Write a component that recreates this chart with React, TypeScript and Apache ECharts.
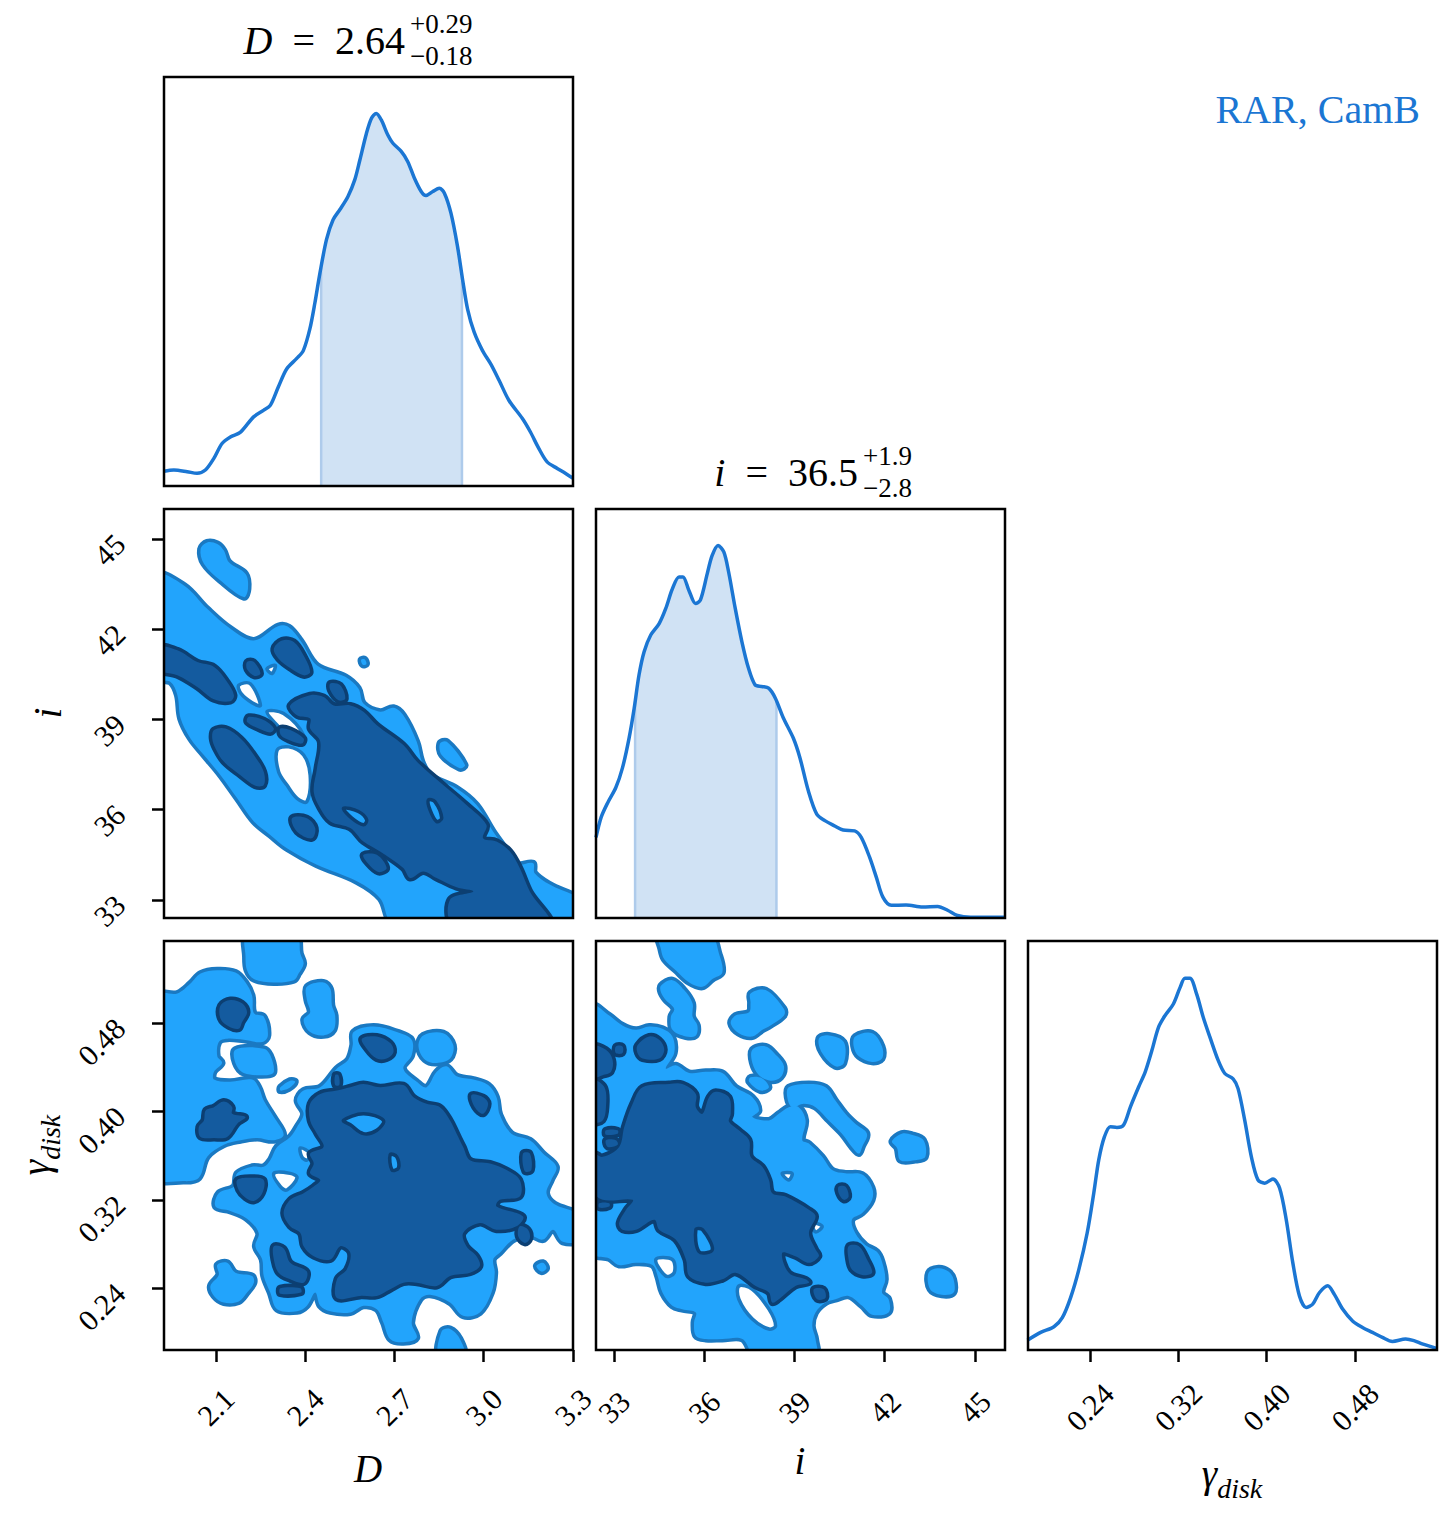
import { useEffect, useRef } from "react";
import * as echarts from "echarts";

const FONT = "Liberation Serif";
const CURVE = "#1b76d3";
const SHADE = "#d0e2f4";
const SHADE_EDGE = "#aecbeb";
const LIGHT_FILL = "#22a4fc";
const LIGHT_EDGE = "#1a79c2";
const DARK_FILL = "#145b9f";
const DARK_EDGE = "#0c3f72";

// axis ranges and ticks
const D_RANGE = [1.926, 3.3];
const I_RANGE = [32.4, 46.0];
const G_RANGE = [0.184, 0.5545];
const D_TICKS = [2.1, 2.4, 2.7, 3.0, 3.3];
const I_TICKS = [33, 36, 39, 42, 45];
const G_TICKS = [0.24, 0.32, 0.4, 0.48];

// 1D marginal densities [value, density]
const D_DENSITY = [[1.926,0.036],[1.959,0.039],[2.004,0.035],[2.037,0.031],[2.065,0.039],[2.093,0.067],[2.121,0.104],[2.149,0.12],[2.182,0.131],[2.227,0.169],[2.26,0.185],[2.283,0.197],[2.31,0.242],[2.338,0.286],[2.372,0.312],[2.394,0.331],[2.416,0.384],[2.433,0.448],[2.45,0.521],[2.472,0.603],[2.494,0.651],[2.517,0.676],[2.544,0.708],[2.567,0.749],[2.584,0.797],[2.606,0.862],[2.623,0.899],[2.639,0.911],[2.656,0.895],[2.678,0.858],[2.695,0.838],[2.723,0.818],[2.745,0.793],[2.767,0.753],[2.79,0.72],[2.806,0.71],[2.829,0.72],[2.851,0.728],[2.868,0.716],[2.89,0.667],[2.912,0.586],[2.929,0.505],[2.946,0.432],[2.968,0.376],[2.996,0.331],[3.024,0.298],[3.052,0.258],[3.085,0.209],[3.13,0.165],[3.157,0.132],[3.185,0.092],[3.213,0.059],[3.247,0.043],[3.274,0.031],[3.3,0.019]];
const D_BAND = [[2.454, 0.534], [2.927, 0.513]];

const I_DENSITY = [[32.4,0.197],[32.57,0.246],[32.79,0.282],[33.06,0.319],[33.28,0.367],[33.5,0.44],[33.67,0.513],[33.83,0.594],[34.0,0.651],[34.22,0.692],[34.5,0.72],[34.72,0.757],[34.94,0.805],[35.16,0.834],[35.29,0.834],[35.49,0.801],[35.71,0.769],[35.87,0.777],[36.1,0.842],[36.26,0.886],[36.46,0.911],[36.65,0.895],[36.81,0.846],[37.03,0.757],[37.25,0.676],[37.47,0.611],[37.69,0.57],[37.91,0.566],[38.14,0.562],[38.36,0.538],[38.63,0.489],[38.96,0.44],[39.18,0.392],[39.46,0.311],[39.74,0.254],[40.01,0.238],[40.34,0.225],[40.62,0.215],[41.0,0.213],[41.22,0.197],[41.5,0.148],[41.72,0.1],[41.94,0.051],[42.22,0.031],[42.71,0.032],[43.26,0.027],[43.76,0.028],[44.09,0.019],[44.42,0.006],[44.86,0.002],[46.0,0.002]];
const I_BAND = [[33.7, 0.53], [38.4, 0.53]];

const G_DENSITY = [[0.1835,0.024],[0.1955,0.043],[0.2075,0.057],[0.2151,0.079],[0.2226,0.128],[0.2301,0.197],[0.2376,0.286],[0.2436,0.384],[0.2481,0.465],[0.2532,0.521],[0.2586,0.546],[0.2646,0.544],[0.2706,0.55],[0.2767,0.594],[0.2842,0.643],[0.2902,0.68],[0.2962,0.732],[0.3022,0.789],[0.3082,0.818],[0.3157,0.846],[0.3217,0.886],[0.3262,0.909],[0.3307,0.909],[0.3368,0.87],[0.3428,0.813],[0.3488,0.765],[0.3563,0.708],[0.3623,0.676],[0.3698,0.663],[0.3743,0.639],[0.3803,0.562],[0.3863,0.473],[0.3923,0.416],[0.3984,0.408],[0.4059,0.418],[0.4119,0.396],[0.4179,0.319],[0.4239,0.213],[0.4299,0.132],[0.4359,0.104],[0.4419,0.112],[0.4479,0.14],[0.4555,0.157],[0.4615,0.136],[0.469,0.1],[0.478,0.071],[0.487,0.055],[0.496,0.043],[0.505,0.031],[0.5141,0.021],[0.5261,0.027],[0.5336,0.023],[0.5411,0.015],[0.554,0.004]];

// 2D credible-region outlines, D vs i
const DI_LIGHT = [
  [[1.9,43.79],[1.993,43.46],[2.071,42.68],[2.149,42.02],[2.228,41.63],[2.311,42.11],[2.345,42.07],[2.384,41.63],[2.44,40.8],[2.535,40.42],[2.579,40.03],[2.596,39.53],[2.652,39.26],[2.697,39.39],[2.73,39.14],[2.775,38.26],[2.792,37.6],[2.82,37.15],[2.909,36.71],[2.976,36.16],[3.032,35.27],[3.088,34.5],[3.11,34.17],[3.166,34.22],[3.171,33.89],[3.222,33.51],[3.33,32.95],[3.33,32.2],[2.7,32.2],[2.652,33.06],[2.574,33.62],[2.44,34.17],[2.339,34.72],[2.283,35.16],[2.228,35.61],[2.172,36.38],[2.116,37.15],[2.06,37.82],[2.015,38.37],[1.982,39.03],[1.971,39.81],[1.948,40.25],[1.9,40.36]],
  [[2.049,44.67],[2.071,44.89],[2.105,44.84],[2.127,44.62],[2.144,44.23],[2.2,43.84],[2.208,43.35],[2.194,43.07],[2.116,43.62],[2.06,44.18]],
  [[2.853,38.2],[2.876,38.26],[2.937,37.49],[2.92,37.38],[2.859,37.82]],
  [[2.588,40.98],[2.6,41.0],[2.606,40.85],[2.594,40.82]],
];
const DI_HOLES = [
  [[2.177,40.14],[2.216,40.19],[2.25,39.47],[2.222,39.56],[2.185,39.86]],
  [[2.272,39.26],[2.328,39.2],[2.395,38.48],[2.373,38.26],[2.317,38.7]],
  [[2.306,37.98],[2.345,38.09],[2.395,37.82],[2.417,37.15],[2.406,36.27],[2.373,36.38],[2.339,36.82],[2.311,37.26]],
  [[2.272,40.69],[2.3,40.8],[2.289,40.53]],
];
const DI_DARK = [
  [[2.35,39.47],[2.417,39.81],[2.462,39.75],[2.496,39.47],[2.552,39.47],[2.596,39.26],[2.641,38.81],[2.73,38.15],[2.775,37.6],[2.864,36.82],[2.942,36.16],[3.009,35.5],[2.998,35.05],[3.043,34.94],[3.088,34.61],[3.121,34.06],[3.155,33.28],[3.22,32.2],[2.898,32.2],[2.887,33.01],[2.965,33.28],[2.909,33.42],[2.842,33.73],[2.797,33.95],[2.753,33.73],[2.73,34.06],[2.652,34.61],[2.596,34.94],[2.552,35.39],[2.485,35.61],[2.451,36.05],[2.429,36.6],[2.44,37.38],[2.451,38.26],[2.417,38.7],[2.417,39.03],[2.373,39.14]],
  [[1.9,41.41],[1.971,41.3],[2.038,40.91],[2.094,40.75],[2.138,40.25],[2.161,39.81],[2.149,39.61],[2.094,39.67],[2.038,40.08],[1.971,40.47],[1.9,40.69]],
  [[2.094,38.65],[2.133,38.7],[2.183,38.37],[2.228,37.82],[2.261,37.26],[2.261,36.82],[2.233,36.8],[2.183,37.15],[2.127,37.6],[2.099,38.04],[2.088,38.37]],
  [[2.295,41.35],[2.323,41.63],[2.362,41.58],[2.395,41.13],[2.417,40.58],[2.395,40.47],[2.35,40.71],[2.311,41.02]],
  [[2.205,40.91],[2.228,40.91],[2.25,40.53],[2.23,40.45],[2.205,40.67]],
  [[2.211,39.09],[2.261,38.98],[2.295,38.7],[2.283,38.57],[2.244,38.7],[2.205,38.92]],
  [[2.317,38.7],[2.35,38.65],[2.395,38.37],[2.389,38.2],[2.348,38.31],[2.319,38.48]],
  [[2.356,35.72],[2.406,35.72],[2.434,35.39],[2.423,35.05],[2.373,35.27]],
  [[2.596,34.5],[2.641,34.5],[2.674,34.06],[2.646,33.93],[2.607,34.26]],
  [[2.485,40.2],[2.518,40.14],[2.535,39.7],[2.512,39.64],[2.485,39.97]],
];
const DI_DARK_HOLES = [
  [[2.529,36.05],[2.579,35.94],[2.607,35.66],[2.596,35.5],[2.557,35.72]],
  [[2.814,36.32],[2.836,36.27],[2.859,35.72],[2.842,35.61],[2.82,35.99]],
];

// D vs gamma_disk
const DG_LIGHT = [
  [[1.9,0.505],[1.971,0.507],[2.015,0.516],[2.049,0.525],[2.105,0.528],[2.166,0.526],[2.2,0.517],[2.222,0.505],[2.228,0.489],[2.261,0.486],[2.275,0.469],[2.256,0.463],[2.194,0.465],[2.138,0.466],[2.11,0.463],[2.105,0.45],[2.121,0.444],[2.094,0.436],[2.094,0.429],[2.149,0.427],[2.222,0.429],[2.244,0.422],[2.261,0.41],[2.295,0.395],[2.328,0.379],[2.295,0.374],[2.239,0.376],[2.183,0.374],[2.127,0.37],[2.071,0.359],[2.043,0.34],[1.993,0.337],[1.9,0.341]],
  [[2.205,0.56],[2.37,0.56],[2.384,0.543],[2.395,0.534],[2.378,0.525],[2.362,0.519],[2.295,0.517],[2.228,0.52],[2.205,0.528],[2.2,0.54]],
  [[2.406,0.513],[2.462,0.517],[2.485,0.511],[2.49,0.496],[2.501,0.487],[2.496,0.474],[2.462,0.469],[2.417,0.472],[2.395,0.483],[2.417,0.49],[2.406,0.501]],
  [[2.166,0.456],[2.261,0.457],[2.283,0.451],[2.295,0.436],[2.272,0.433],[2.194,0.435],[2.166,0.444]],
  [[2.797,0.469],[2.864,0.471],[2.898,0.46],[2.887,0.448],[2.842,0.444],[2.803,0.447],[2.781,0.459]],
  [[2.563,0.472],[2.63,0.477],[2.708,0.472],[2.758,0.465],[2.758,0.451],[2.73,0.439],[2.775,0.427],[2.808,0.422],[2.842,0.436],[2.875,0.441],[2.909,0.432],[2.965,0.429],[3.015,0.424],[3.043,0.413],[3.054,0.397],[3.093,0.38],[3.155,0.374],[3.199,0.362],[3.244,0.35],[3.227,0.338],[3.211,0.326],[3.238,0.316],[3.33,0.305],[3.33,0.284],[3.266,0.282],[3.233,0.293],[3.199,0.284],[3.155,0.288],[3.099,0.284],[3.054,0.272],[3.032,0.266],[3.037,0.254],[3.026,0.236],[2.987,0.218],[2.931,0.215],[2.887,0.227],[2.82,0.234],[2.786,0.23],[2.758,0.209],[2.775,0.195],[2.73,0.191],[2.686,0.194],[2.663,0.209],[2.641,0.221],[2.596,0.224],[2.552,0.218],[2.485,0.219],[2.451,0.224],[2.434,0.236],[2.406,0.224],[2.373,0.219],[2.306,0.221],[2.283,0.236],[2.261,0.251],[2.256,0.266],[2.233,0.278],[2.244,0.29],[2.205,0.303],[2.149,0.31],[2.099,0.314],[2.11,0.326],[2.161,0.332],[2.172,0.344],[2.222,0.35],[2.261,0.35],[2.283,0.356],[2.306,0.368],[2.35,0.377],[2.373,0.386],[2.395,0.398],[2.373,0.41],[2.395,0.419],[2.451,0.422],[2.507,0.439],[2.545,0.447],[2.56,0.46]],
  [[2.105,0.261],[2.138,0.263],[2.166,0.254],[2.222,0.251],[2.228,0.245],[2.205,0.236],[2.177,0.228],[2.127,0.227],[2.094,0.233],[2.082,0.242],[2.11,0.252]],
  [[2.859,0.201],[2.887,0.203],[2.92,0.194],[2.935,0.178],[2.85,0.178]],
  [[3.177,0.26],[3.199,0.263],[3.211,0.258],[3.194,0.255]],
  [[2.317,0.422],[2.35,0.428],[2.367,0.427],[2.345,0.421],[2.317,0.419]],
];
const DG_HOLES = [
  [[2.295,0.344],[2.35,0.344],[2.373,0.34],[2.339,0.329],[2.317,0.332]],
  [[2.384,0.367],[2.417,0.362],[2.406,0.356],[2.389,0.359]],
];
const DG_DARK = [
  [[2.417,0.407],[2.451,0.416],[2.507,0.419],[2.552,0.422],[2.596,0.425],[2.652,0.422],[2.73,0.424],[2.764,0.413],[2.808,0.407],[2.853,0.404],[2.887,0.392],[2.909,0.38],[2.931,0.368],[2.954,0.356],[3.021,0.353],[3.077,0.347],[3.121,0.338],[3.121,0.323],[3.054,0.32],[3.043,0.314],[3.132,0.305],[3.11,0.296],[3.043,0.293],[2.987,0.299],[2.931,0.29],[2.942,0.278],[2.976,0.269],[2.987,0.26],[2.954,0.254],[2.887,0.251],[2.842,0.242],[2.775,0.245],[2.73,0.245],[2.686,0.239],[2.641,0.233],[2.585,0.233],[2.507,0.231],[2.507,0.248],[2.54,0.257],[2.552,0.272],[2.518,0.278],[2.485,0.266],[2.429,0.269],[2.395,0.278],[2.384,0.29],[2.35,0.296],[2.328,0.308],[2.35,0.32],[2.395,0.326],[2.429,0.332],[2.451,0.338],[2.417,0.344],[2.429,0.353],[2.417,0.362],[2.462,0.368],[2.44,0.38],[2.417,0.392]],
  [[2.116,0.496],[2.149,0.501],[2.188,0.498],[2.205,0.49],[2.188,0.481],[2.177,0.475],[2.144,0.477],[2.116,0.484]],
  [[2.066,0.401],[2.094,0.404],[2.127,0.409],[2.155,0.404],[2.155,0.398],[2.2,0.395],[2.172,0.389],[2.138,0.377],[2.094,0.376],[2.049,0.377],[2.043,0.386],[2.06,0.392]],
  [[2.591,0.466],[2.641,0.468],[2.686,0.462],[2.697,0.454],[2.674,0.448],[2.641,0.448],[2.607,0.457]],
  [[2.172,0.338],[2.222,0.34],[2.261,0.338],[2.256,0.326],[2.228,0.319],[2.2,0.322],[2.177,0.329]],
  [[2.295,0.278],[2.328,0.276],[2.35,0.263],[2.406,0.255],[2.395,0.245],[2.35,0.248],[2.311,0.254],[2.295,0.266]],
  [[2.959,0.415],[2.998,0.413],[3.015,0.407],[2.998,0.398],[2.97,0.404]],
  [[3.121,0.296],[3.149,0.293],[3.155,0.285],[3.138,0.281],[3.116,0.287]],
  [[3.132,0.362],[3.155,0.362],[3.16,0.347],[3.138,0.346]],
  [[2.317,0.24],[2.384,0.24],[2.386,0.236],[2.317,0.235]],
  [[2.501,0.433],[2.512,0.433],[2.515,0.424],[2.501,0.424]],
];
const DG_DARK_HOLES = [
  [[2.529,0.392],[2.596,0.398],[2.663,0.392],[2.641,0.383],[2.596,0.38],[2.552,0.388]],
  [[2.686,0.361],[2.708,0.359],[2.714,0.349],[2.692,0.347]],
];

// i vs gamma_disk
const IG_LIGHT = [
  [[34.5,0.56],[36.2,0.56],[36.49,0.543],[36.6,0.526],[36.27,0.52],[35.94,0.513],[35.5,0.517],[35.05,0.528],[34.67,0.538],[34.56,0.547]],
  [[34.56,0.514],[34.94,0.519],[35.33,0.51],[35.61,0.498],[35.61,0.486],[35.77,0.478],[35.72,0.469],[35.39,0.468],[34.94,0.474],[34.89,0.486],[35.0,0.493],[34.72,0.501],[34.56,0.508]],
  [[37.54,0.507],[38.04,0.51],[38.65,0.493],[38.65,0.487],[38.2,0.478],[37.93,0.474],[37.6,0.468],[37.15,0.471],[36.88,0.48],[37.04,0.487],[37.49,0.49],[37.54,0.498]],
  [[37.6,0.456],[38.04,0.459],[38.43,0.45],[38.65,0.441],[38.54,0.431],[38.2,0.428],[37.82,0.433],[37.6,0.444]],
  [[37.54,0.431],[37.93,0.43],[38.15,0.422],[37.87,0.419],[37.49,0.427]],
  [[39.81,0.466],[40.14,0.469],[40.64,0.463],[40.64,0.444],[40.36,0.441],[39.92,0.453]],
  [[41.02,0.468],[41.58,0.471],[41.91,0.459],[41.91,0.448],[41.58,0.445],[41.14,0.45],[40.97,0.459]],
  [[42.24,0.373],[42.57,0.38],[42.9,0.379],[43.29,0.374],[43.35,0.359],[43.01,0.356],[42.52,0.356],[42.41,0.367]],
  [[43.46,0.254],[43.79,0.258],[44.12,0.255],[44.29,0.248],[44.29,0.236],[43.9,0.234],[43.51,0.239]],
  [[38.81,0.422],[39.48,0.425],[40.03,0.422],[40.36,0.41],[40.69,0.398],[41.02,0.389],[41.41,0.38],[41.25,0.368],[41.14,0.362],[40.91,0.368],[40.58,0.38],[40.14,0.392],[39.7,0.404],[39.31,0.407],[38.92,0.404],[38.76,0.413]],
  [[32.3,0.495],[32.84,0.487],[33.28,0.478],[33.73,0.474],[34.17,0.477],[34.61,0.475],[34.94,0.468],[35.0,0.453],[34.72,0.439],[35.05,0.442],[35.5,0.435],[36.05,0.436],[36.6,0.435],[37.04,0.422],[37.6,0.413],[37.82,0.401],[37.6,0.395],[38.15,0.392],[38.48,0.398],[38.81,0.404],[39.14,0.404],[39.37,0.392],[39.26,0.374],[39.48,0.371],[39.92,0.359],[40.25,0.347],[40.69,0.344],[41.25,0.343],[41.58,0.331],[41.58,0.32],[41.25,0.308],[40.91,0.302],[41.02,0.29],[41.36,0.279],[41.74,0.273],[41.91,0.264],[42.02,0.248],[41.91,0.236],[42.13,0.23],[42.13,0.218],[41.58,0.216],[41.25,0.224],[40.8,0.233],[40.36,0.23],[40.03,0.227],[39.7,0.218],[39.59,0.206],[39.7,0.194],[39.7,0.178],[37.71,0.178],[37.27,0.194],[36.6,0.194],[36.05,0.194],[35.72,0.197],[35.66,0.209],[35.72,0.218],[35.27,0.221],[34.94,0.224],[34.61,0.236],[34.45,0.251],[34.28,0.261],[33.73,0.263],[33.17,0.261],[32.84,0.267],[32.3,0.272]],
];
const IG_HOLES = [
  [[37.15,0.242],[37.6,0.239],[38.15,0.221],[38.37,0.206],[38.15,0.203],[37.6,0.212],[37.15,0.23]],
  [[34.39,0.266],[34.94,0.266],[35.0,0.254],[34.72,0.251]],
  [[38.59,0.344],[38.92,0.344],[38.81,0.338]],
  [[39.59,0.299],[39.92,0.296],[39.7,0.291]],
];
const IG_DARK = [
  [[32.3,0.362],[32.62,0.359],[33.17,0.368],[33.34,0.386],[33.62,0.407],[33.95,0.422],[34.83,0.425],[35.27,0.425],[35.72,0.416],[35.72,0.404],[35.94,0.398],[36.16,0.413],[36.38,0.418],[36.82,0.413],[36.88,0.398],[36.82,0.391],[37.15,0.383],[37.49,0.374],[37.54,0.359],[37.93,0.35],[38.15,0.338],[38.26,0.326],[38.7,0.323],[39.48,0.311],[39.7,0.305],[39.48,0.29],[39.7,0.275],[39.81,0.269],[39.48,0.263],[39.03,0.269],[38.59,0.272],[38.81,0.254],[39.37,0.248],[39.48,0.245],[39.03,0.242],[38.48,0.23],[38.26,0.227],[38.15,0.236],[37.71,0.242],[37.04,0.254],[36.6,0.248],[36.05,0.245],[35.5,0.251],[35.39,0.266],[35.05,0.284],[34.5,0.293],[34.34,0.302],[33.73,0.293],[33.28,0.293],[33.17,0.299],[33.4,0.311],[33.62,0.32],[32.62,0.32],[32.3,0.329]],
  [[32.3,0.459],[32.73,0.456],[32.95,0.447],[32.9,0.436],[32.62,0.433],[32.3,0.431]],
  [[32.3,0.428],[32.68,0.422],[32.73,0.404],[32.62,0.392],[32.3,0.391]],
  [[33.78,0.46],[34.17,0.468],[34.5,0.465],[34.67,0.456],[34.5,0.448],[33.95,0.448],[33.78,0.453]],
  [[40.8,0.278],[41.14,0.278],[41.41,0.266],[41.58,0.254],[41.25,0.252],[40.91,0.257],[40.8,0.266]],
  [[40.47,0.332],[40.69,0.332],[40.8,0.323],[40.64,0.32],[40.47,0.326]],
  [[39.64,0.239],[39.97,0.239],[40.03,0.231],[39.75,0.23]],
  [[32.51,0.317],[32.84,0.317],[32.84,0.314],[32.51,0.313]],
  [[32.73,0.383],[33.12,0.383],[33.12,0.38],[32.73,0.379]],
  [[32.73,0.374],[33.06,0.374],[33.12,0.37],[32.79,0.368]],
  [[33.06,0.459],[33.28,0.459],[33.28,0.453],[33.06,0.453]],
];
const IG_DARK_HOLES = [
  [[35.72,0.293],[35.94,0.293],[36.27,0.275],[35.83,0.273]],
];

// panel layout (pixels)
const COLS = [164, 596, 1028];
const ROWS = [77, 509, 941];
const SIZE = 409;
const PANELS = [
  { row: 0, col: 0 },
  { row: 1, col: 0 },
  { row: 1, col: 1 },
  { row: 2, col: 0 },
  { row: 2, col: 1 },
  { row: 2, col: 2 },
];

type Poly = number[][];

function contourSeries(idx: number, light: Poly[], holes: Poly[], dark: Poly[], darkHoles: Poly[]) {
  // edge pass with a wide stroke, then the fill on top, so overlapping blobs merge
  const layers = [
    { polys: light, fill: LIGHT_EDGE, stroke: LIGHT_EDGE, lw: 7 },
    { polys: light, fill: LIGHT_FILL, stroke: "none", lw: 0 },
    { polys: holes, fill: "#ffffff", stroke: LIGHT_EDGE, lw: 3.5 },
    { polys: dark, fill: DARK_EDGE, stroke: DARK_EDGE, lw: 7 },
    { polys: dark, fill: DARK_FILL, stroke: "none", lw: 0 },
    { polys: darkHoles, fill: LIGHT_FILL, stroke: DARK_EDGE, lw: 3.5 },
  ];
  const items: number[][] = [];
  layers.forEach((l, li) => l.polys.forEach((_, pi) => items.push([li, pi])));
  return {
    type: "custom",
    xAxisIndex: idx,
    yAxisIndex: idx,
    clip: true,
    silent: true,
    data: items.map((_, k) => k),
    renderItem: (params: any, api: any) => {
      const [li, pi] = items[params.dataIndex];
      const layer = layers[li];
      const points = layer.polys[pi].map((p) => api.coord(p));
      return {
        type: "polygon",
        shape: { points, smooth: 0.35 },
        style: { fill: layer.fill, stroke: layer.stroke, lineWidth: layer.lw, lineJoin: "round" },
      };
    },
  };
}

function histSeries(idx: number, density: number[][], band?: number[][]) {
  const out: any[] = [];
  if (band) {
    const [lo, hi] = band;
    const inner = density.filter((p) => p[0] > lo[0] && p[0] < hi[0]);
    out.push({
      type: "line",
      xAxisIndex: idx,
      yAxisIndex: idx,
      data: [lo, ...inner, hi],
      smooth: 0.3,
      showSymbol: false,
      lineStyle: { width: 0 },
      areaStyle: { color: SHADE, opacity: 1 },
      silent: true,
      z: 1,
    });
    [lo, hi].forEach((b) =>
      out.push({
        type: "line",
        xAxisIndex: idx,
        yAxisIndex: idx,
        data: [[b[0], 0], b],
        showSymbol: false,
        lineStyle: { width: 2.5, color: SHADE_EDGE },
        silent: true,
        z: 1,
      })
    );
  }
  out.push({
    type: "line",
    xAxisIndex: idx,
    yAxisIndex: idx,
    data: density,
    smooth: 0.3,
    showSymbol: false,
    lineStyle: { width: 3.5, color: CURVE },
    silent: true,
    z: 3,
  });
  return out;
}

const tickStyle = { color: "#000", width: 2.5 };

function valueAxis(idx: number, range: number[], ticks?: number[], fmt?: (v: number) => string, isX = true) {
  if (!ticks) {
    return { type: "value", gridIndex: idx, min: range[0], max: range[1], show: false };
  }
  const label: any = {
    show: true,
    customValues: ticks,
    formatter: (v: number) => fmt!(v),
    rotate: 45,
    fontFamily: FONT,
    fontSize: 30,
    color: "#000",
  };
  if (isX) {
    label.align = "center";
    label.verticalAlign = "middle";
    label.margin = 57;
  } else {
    label.margin = 44;
  }
  return {
    type: "value",
    gridIndex: idx,
    min: range[0],
    max: range[1],
    axisLine: { show: false },
    splitLine: { show: false },
    axisTick: { show: true, customValues: ticks, length: 12, inside: false, lineStyle: tickStyle },
    axisLabel: label,
  };
}

const fmtD = (v: number) => v.toFixed(1);
const fmtI = (v: number) => String(Math.round(v));
const fmtG = (v: number) => v.toFixed(2);

function mathText(x: number, y: number, text: string, size: number, align: string, extra: any = {}) {
  return {
    type: "text",
    x,
    y,
    silent: true,
    z: 50,
    ...extra,
    style: {
      text,
      fill: "#000",
      fontFamily: FONT,
      fontSize: size,
      align,
      verticalAlign: "middle",
      rich: {
        rm: { fontFamily: FONT, fontSize: size, fill: "#000" },
        it: { fontFamily: FONT, fontSize: size, fontStyle: "italic", fill: "#000" },
        g: { fontFamily: FONT, fontSize: size, fontStyle: "italic", fill: "#000", padding: [0, 0, 10, 0] },
        s: { fontFamily: FONT, fontSize: 28, fontStyle: "italic", fill: "#000", verticalAlign: "bottom" },
      },
    },
  };
}

function buildOption(): any {
  const grids = PANELS.map((p) => ({
    left: COLS[p.col],
    top: ROWS[p.row],
    width: SIZE,
    height: SIZE,
    containLabel: false,
    outerBoundsMode: "none",
  }));
  const frames = PANELS.map((p) => ({
    type: "rect",
    silent: true,
    z: 100,
    shape: { x: COLS[p.col], y: ROWS[p.row], width: SIZE, height: SIZE },
    style: { fill: "none", stroke: "#000", lineWidth: 2.5 },
  }));
  const texts = [
    mathText(405, 40, "{it|D}{rm|\u2002=\u20022.64}", 40, "right"),
    mathText(410, 24, "{rm|+0.29}", 27, "left"),
    mathText(410, 56, "{rm|\u22120.18}", 27, "left"),
    mathText(858, 472, "{it|i}{rm|\u2002=\u200236.5}", 40, "right"),
    mathText(863, 456, "{rm|+1.9}", 27, "left"),
    mathText(863, 488, "{rm|\u22122.8}", 27, "left"),
    mathText(368, 1468, "{it|D}", 39, "center"),
    mathText(800, 1460, "{it|i}", 39, "center"),
    mathText(1232, 1478, "{g|\u03b3}{s|disk}", 39, "center"),
    mathText(47, 713, "{it|i}", 39, "center", { rotation: Math.PI / 2 }),
    mathText(40, 1145, "{g|\u03b3}{s|disk}", 39, "center", { rotation: Math.PI / 2 }),
    {
      type: "text",
      x: 1420,
      y: 109,
      silent: true,
      style: {
        text: "RAR, CamB",
        fill: CURVE,
        fontFamily: FONT,
        fontSize: 40,
        align: "right",
        verticalAlign: "middle",
      },
    },
  ];

  return {
    animation: false,
    backgroundColor: "#ffffff",
    textStyle: { fontFamily: FONT },
    grid: grids,
    xAxis: [
      valueAxis(0, D_RANGE),
      valueAxis(1, D_RANGE),
      valueAxis(2, I_RANGE),
      valueAxis(3, D_RANGE, D_TICKS, fmtD, true),
      valueAxis(4, I_RANGE, I_TICKS, fmtI, true),
      valueAxis(5, G_RANGE, G_TICKS, fmtG, true),
    ],
    yAxis: [
      valueAxis(0, [0, 1]),
      valueAxis(1, I_RANGE, I_TICKS, fmtI, false),
      valueAxis(2, [0, 1]),
      valueAxis(3, G_RANGE, G_TICKS, fmtG, false),
      valueAxis(4, G_RANGE),
      valueAxis(5, [0, 1]),
    ],
    series: [
      ...histSeries(0, D_DENSITY, D_BAND),
      contourSeries(1, DI_LIGHT, DI_HOLES, DI_DARK, DI_DARK_HOLES),
      ...histSeries(2, I_DENSITY, I_BAND),
      contourSeries(3, DG_LIGHT, DG_HOLES, DG_DARK, DG_DARK_HOLES),
      contourSeries(4, IG_LIGHT, IG_HOLES, IG_DARK, IG_DARK_HOLES),
      ...histSeries(5, G_DENSITY),
    ],
    graphic: [...frames, ...texts],
  };
}

export default function App() {
  const chartRef = useRef<HTMLDivElement>(null);

  useEffect(() => {
    if (!chartRef.current) return;
    const chart = echarts.init(chartRef.current, null, { renderer: "svg" });
    chart.setOption(buildOption());
    return () => {
      chart.dispose();
    };
  }, []);

  return (
    <div
      ref={chartRef}
      style={{ position: "absolute", left: 0, top: 0, width: 1452, height: 1514, background: "#fff" }}
    />
  );
}
